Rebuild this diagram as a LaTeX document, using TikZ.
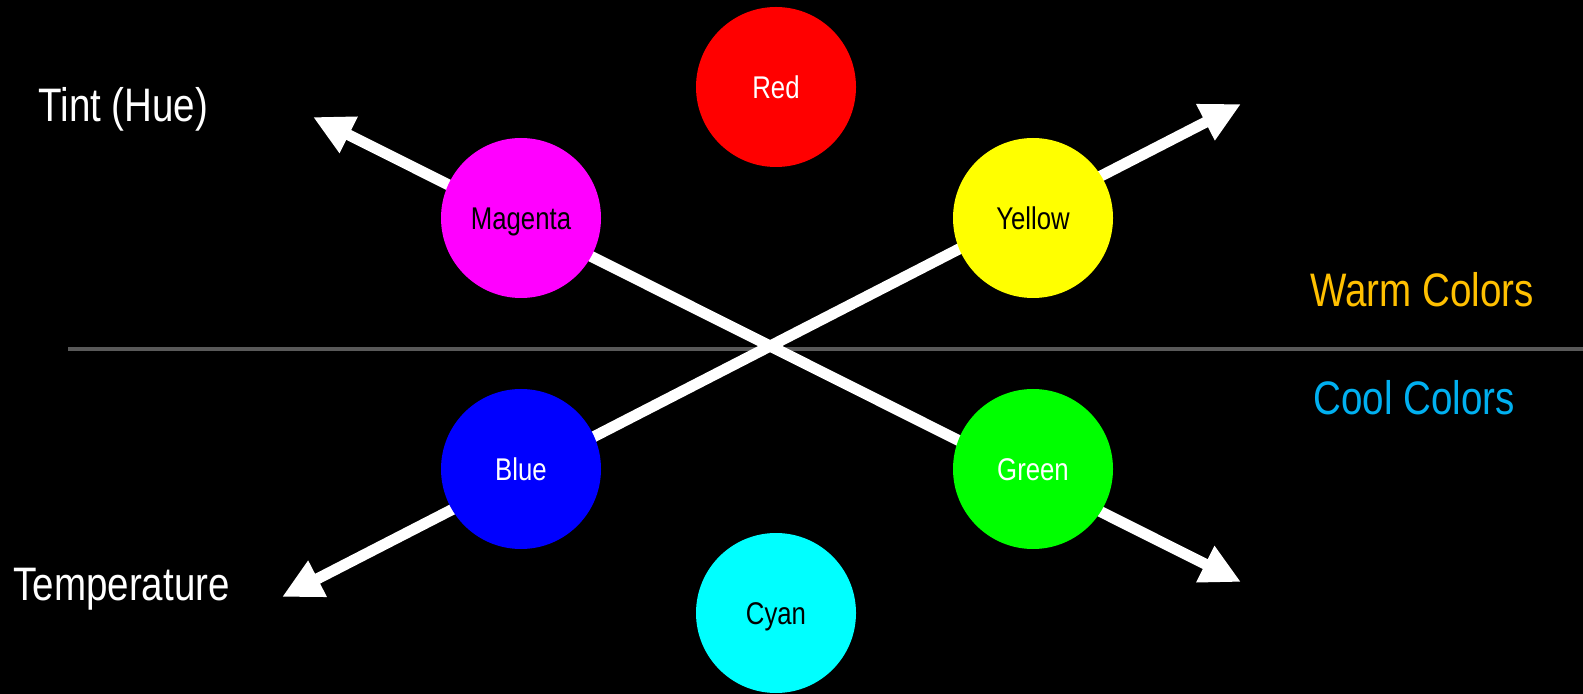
\documentclass[tikz,border=0pt]{standalone}
\usepackage{fontspec}
\setmainfont{Liberation Sans}[FakeStretch=0.82]
\usepackage{xcolor}
\usepackage{tikz}
\usetikzlibrary{arrows.meta}

\definecolor{warmcol}{HTML}{FFC000}
\definecolor{coolcol}{HTML}{00B0F0}
\definecolor{rulegray}{HTML}{595959}
\definecolor{hueRed}{HTML}{FF0000}
\definecolor{hueMagenta}{HTML}{FF00FF}
\definecolor{hueYellow}{HTML}{FFFF00}
\definecolor{hueBlue}{HTML}{0000FF}
\definecolor{hueGreen}{HTML}{00FF00}
\definecolor{hueCyan}{HTML}{00FFFF}

\tikzset{
  hue/.style={circle, minimum size=80pt, inner sep=0pt, text height=11.2pt, text depth=0pt,
    font=\fontsize{15.7}{18}\selectfont},
  axisline/.style={white, line width=5.5pt,
    {Triangle[length=20pt,width=19pt]}-{Triangle[length=20pt,width=19pt]}},
  biglabel/.style={anchor=base west, inner sep=0pt, font=\fontsize{23.5}{28}\selectfont}
}

\begin{document}
\begin{tikzpicture}[x=0.5pt,y=-0.5pt]
\fill[black] (0,0) rectangle (1583,694);
\useasboundingbox (0,0) rectangle (1583,694);
% warm / cool split
\coordinate (ruleL) at (68,349);
\coordinate (ruleR) at (1583,349);
\draw[rulegray, line width=1.8pt] (ruleL) -- (ruleR);
% the two axes
\coordinate (tempEnd) at (282,597);
\coordinate (warmEnd) at (1241,104);
\coordinate (tintEnd) at (313,117);
\coordinate (coolEnd) at (1241,582);
\draw[axisline] (tempEnd) -- (warmEnd);
\draw[axisline] (tintEnd) -- (coolEnd);
% hue circles
\node[hue, fill=hueRed, text=white] (red) at (776,87) {Red};
\node[hue, fill=hueMagenta, text=black] (magenta) at (521,218) {Magenta};
\node[hue, fill=hueYellow, text=black] (yellow) at (1033,218) {Yellow};
\node[hue, fill=hueBlue, text=white] (blue) at (521,469) {Blue};
\node[hue, fill=hueGreen, text=white] (green) at (1033,469) {Green};
\node[hue, fill=hueCyan, text=black] (cyan) at (776,613) {Cyan};
% labels
\node[biglabel, text=white] (tint) at (38,122) {Tint (Hue)};
\node[biglabel, text=white] (temp) at (13,600) {Temperature};
\node[biglabel, text=warmcol] (warm) at (1310,307) {Warm Colors};
\node[biglabel, text=coolcol] (cool) at (1313,415) {Cool Colors};
\end{tikzpicture}
\end{document}
